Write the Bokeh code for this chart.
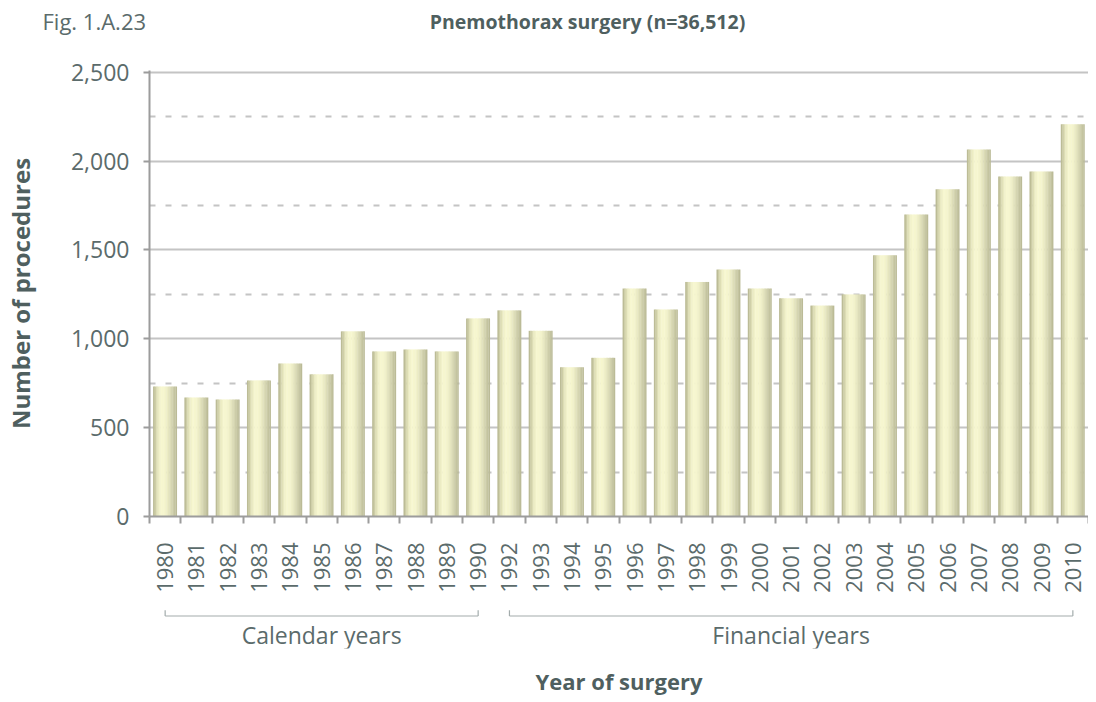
import math
import numpy as np
from bokeh.plotting import figure
from bokeh.layouts import column
from bokeh.models import Range1d, FixedTicker, NumeralTickFormatter
from bokeh.embed import file_html
from bokeh.resources import INLINE
from bokeh.core.properties import value

# ---------------- data ----------------
years = ["1980", "1981", "1982", "1983", "1984", "1985", "1986", "1987", "1988", "1989", "1990",
         "1992", "1993", "1994", "1995", "1996", "1997", "1998", "1999", "2000", "2001", "2002",
         "2003", "2004", "2005", "2006", "2007", "2008", "2009", "2010"]
procedures = [732, 670, 659, 766, 861, 800, 1042, 929, 940, 929, 1115,
              1160, 1045, 840, 893, 1283, 1165, 1320, 1390, 1283, 1228, 1187,
              1250, 1470, 1700, 1841, 2066, 1914, 1942, 2207]
group_names = ["Calendar years", "Financial years"]
group_sizes = [11, 19]
y_ticks = [0, 500, 1000, 1500, 2000, 2500]

fig_label = "Fig. 1.A.23"
title_text = "Pnemothorax surgery (n=36,512)"
y_label = "Number of procedures"
x_label = "Year of surgery"

# ---------------- style ----------------
FONT = "Open Sans"
TXT = "#5b6b6b"
TXT_B = "#4f5f5f"
GRID = "#c4c4c4"
AXIS = "#9c9c9c"
W = 1088
LEFT = 140

n = len(years)
centers = np.arange(n) + 0.5

# ---------------- header (pixel coordinates, y downwards) ----------------
hdr = figure(width=W, height=40, x_range=Range1d(0, W), y_range=Range1d(40, 0),
             x_axis_type=None, y_axis_type=None,
             output_backend="svg", toolbar_location=None, min_border=0)
hdr.frame_align = False
hdr.grid.visible = False
hdr.outline_line_color = None
hdr.text(x=[42], y=[20], text=[fig_label], text_font=value(FONT), text_font_size="22px",
         text_color=TXT, text_align="left", text_baseline="middle")
hdr.text(x=[587], y=[21], text=[title_text], text_font=value(FONT), text_font_size="19.5px",
         text_font_style="bold", text_color=TXT_B, text_align="center", text_baseline="middle")

# ---------------- main chart ----------------
p = figure(width=W, height=558, x_range=Range1d(0, n), y_range=Range1d(0, 2510),
           output_backend="svg", toolbar_location=None,
           min_border_left=LEFT, min_border_right=0, min_border_top=30, min_border_bottom=82)
p.outline_line_color = None
p.xgrid.visible = False

# bars with a cylindrical shading made of narrow strips
bar_w = 0.76
nstrip = 16
prof_t = [0.0, 0.08, 0.2, 0.33, 0.5, 0.65, 0.82, 1.0]
prof_c = np.array([[0xb3, 0xb3, 0x8e], [0xc9, 0xc9, 0xa3], [0xe8, 0xe8, 0xc0], [0xf7, 0xf7, 0xd0],
                   [0xf5, 0xf5, 0xce], [0xe6, 0xe6, 0xc0], [0xd0, 0xd0, 0xac], [0xb6, 0xb6, 0x93]])
for k in range(nstrip):
    t = (k + 0.5) / nstrip
    rgb = [int(round(np.interp(t, prof_t, prof_c[:, c]))) for c in range(3)]
    col = "#%02x%02x%02x" % tuple(rgb)
    off = -bar_w / 2 + (k + 0.5) * bar_w / nstrip
    sw = bar_w / nstrip * (1.25 if k < nstrip - 1 else 1.0)
    p.vbar(x=centers + off, top=procedures, bottom=0, width=sw,
           fill_color=col, line_color=None)

# y axis
minor_y = [(a + b) / 2 for a, b in zip(y_ticks[:-1], y_ticks[1:])]
p.yaxis.ticker = FixedTicker(ticks=y_ticks, minor_ticks=minor_y)
p.yaxis.formatter = NumeralTickFormatter(format="0,0")
p.yaxis.axis_line_color = AXIS
p.yaxis.axis_line_width = 2
p.yaxis.major_tick_line_color = AXIS
p.yaxis.major_tick_line_width = 2
p.yaxis.major_tick_out = 6
p.yaxis.major_tick_in = 0
p.yaxis.minor_tick_line_color = None
p.yaxis.major_label_standoff = 14
p.yaxis.major_label_text_font = FONT
p.yaxis.major_label_text_font_size = "23px"
p.yaxis.major_label_text_color = TXT
p.yaxis.axis_label = y_label
p.yaxis.axis_label_text_font = FONT
p.yaxis.axis_label_text_font_size = "24px"
p.yaxis.axis_label_text_font_style = "bold"
p.yaxis.axis_label_text_color = TXT_B
p.yaxis.axis_label_standoff = 31

p.ygrid.grid_line_color = GRID
p.ygrid.grid_line_width = 2
p.ygrid.minor_grid_line_color = GRID
p.ygrid.minor_grid_line_width = 2
p.ygrid.minor_grid_line_dash = "6 10"

# x axis
p.xaxis.ticker = FixedTicker(ticks=list(centers), minor_ticks=list(range(n + 1)))
p.xaxis.major_label_overrides = {float(c): y for c, y in zip(centers, years)}
p.xaxis.major_tick_line_color = None
p.xaxis.major_tick_out = 7
p.xaxis.major_tick_in = 0
p.xaxis.minor_tick_line_color = AXIS
p.xaxis.minor_tick_line_width = 2
p.xaxis.minor_tick_out = 7
p.xaxis.minor_tick_in = 0
p.xaxis.axis_line_color = AXIS
p.xaxis.axis_line_width = 2
p.xaxis.major_label_orientation = math.pi / 2
p.xaxis.major_label_standoff = 19
p.xaxis.major_label_text_font = FONT
p.xaxis.major_label_text_font_size = "22px"
p.xaxis.major_label_text_color = TXT

# ---------------- group brackets and x-axis title ----------------
FH = 60  # frame height of the bracket panel (pixels, y downwards)
q = figure(width=W, height=100, x_range=p.x_range, y_range=Range1d(FH, 0),
           y_axis_type=None, output_backend="svg", toolbar_location=None,
           min_border_left=LEFT, min_border_right=0, min_border_top=0, min_border_bottom=100 - FH)
q.grid.visible = False
q.outline_line_color = None
q.xaxis.ticker = FixedTicker(ticks=[])
q.xaxis.axis_line_color = None
q.xaxis.major_tick_line_color = None
q.xaxis.minor_tick_line_color = None
q.xaxis.major_tick_out = 0
q.xaxis.minor_tick_out = 0
q.xaxis.axis_label = x_label
q.xaxis.axis_label_standoff = 17
q.xaxis.axis_label_text_font = FONT
q.xaxis.axis_label_text_font_size = "22px"
q.xaxis.axis_label_text_font_style = "bold"
q.xaxis.axis_label_text_color = TXT_B

starts = np.cumsum([0] + group_sizes[:-1])
ends = starts + np.array(group_sizes) - 1
x0 = centers[starts]
x1 = centers[ends]
BR = "#a3acac"
m = len(x0)
q.segment(x0=x0, y0=[21] * m, x1=x1, y1=[21] * m, line_color=BR, line_width=1.2)
q.segment(x0=x0, y0=[21] * m, x1=x0, y1=[14] * m, line_color=BR, line_width=1.2)
q.segment(x0=x1, y0=[21] * m, x1=x1, y1=[14] * m, line_color=BR, line_width=1.2)
q.text(x=(x0 + x1) / 2, y=[44] * m, text=group_names, text_font=value(FONT),
       text_font_size="23px", text_color=TXT, text_align="center", text_baseline="middle")

layout = column(hdr, p, q)
open("out.html", "w").write(file_html(layout, INLINE))
